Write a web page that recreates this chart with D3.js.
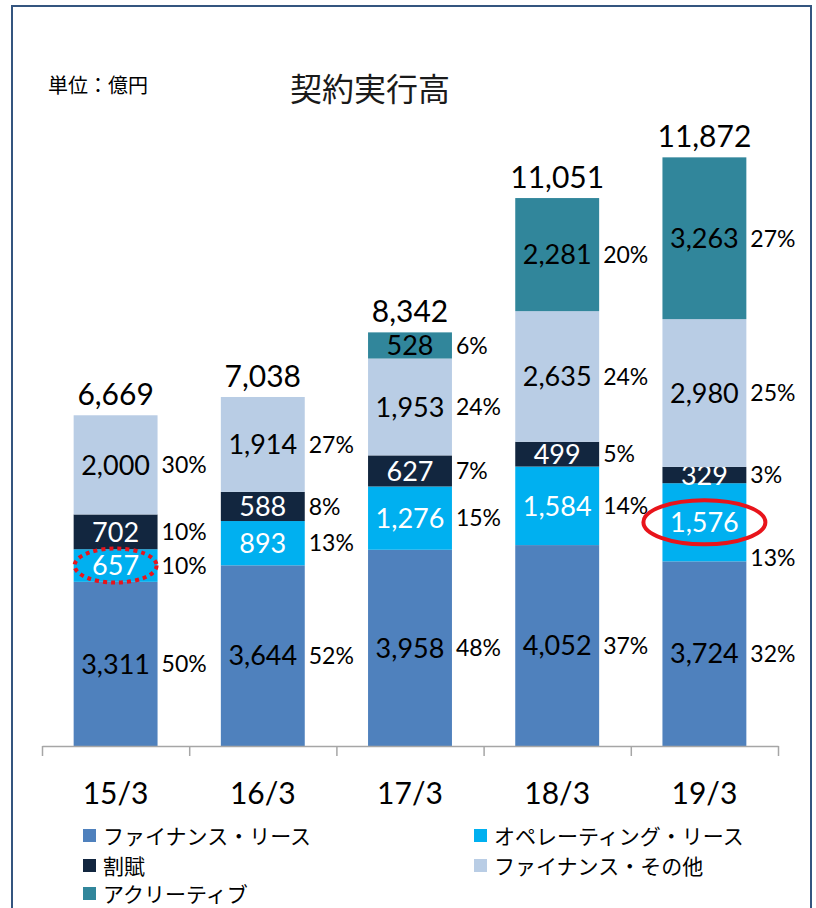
<!DOCTYPE html>
<html>
<head>
<meta charset="utf-8">
<script src="https://cdn.jsdelivr.net/npm/d3@7"></script>
<style>
  body { margin: 0; background: #fff; }
  svg { display: block; }
</style>
</head>
<body>
<svg id="chart" width="816" height="908"></svg>
<script>
const years = ["15/3", "16/3", "17/3", "18/3", "19/3"];
const seriesNames = ["ファイナンス・リース", "オペレーティング・リース", "割賦", "ファイナンス・その他", "アクリーティブ"];
const financeLease = [3311, 3644, 3958, 4052, 3724];
const operatingLease = [657, 893, 1276, 1584, 1576];
const installment = [702, 588, 627, 499, 329];
const financeOther = [2000, 1914, 1953, 2635, 2980];
const accretive = [0, 0, 528, 2281, 3263];
const totals = [6669, 7038, 8342, 11051, 11872];
const financeLeasePct = [50, 52, 48, 37, 32];
const operatingLeasePct = [10, 13, 15, 14, 13];
const installmentPct = [10, 8, 7, 5, 3];
const financeOtherPct = [30, 27, 24, 24, 25];
const accretivePct = [null, null, 6, 20, 27];

const svg = d3.select("#chart");
const numFont = "Lato, 'Open Sans', sans-serif";
const jpFont = "'Noto Sans CJK JP', sans-serif";

// frame
svg.append("rect")
  .attr("x", 12).attr("y", 6).attr("width", 799).attr("height", 920)
  .attr("fill", "none").attr("stroke", "#34557f").attr("stroke-width", 2);

svg.append("text").attr("x", 48).attr("y", 93)
  .attr("font-family", jpFont).attr("font-size", 20).attr("fill", "#000")
  .text("単位：億円");
svg.append("text").attr("x", 370).attr("y", 101).attr("text-anchor", "middle")
  .attr("font-family", jpFont).attr("font-size", 32).attr("fill", "#1a1a1a")
  .text("契約実行高");

const keys = ["fl", "ol", "in", "fo", "ac"];
const colors = { fl: "#4f81bd", ol: "#00b0f0", in: "#12263f", fo: "#b9cde5", ac: "#31869b" };
const labelColors = { fl: "#000", ol: "#fff", in: "#fff", fo: "#000", ac: "#000" };
const valueArrays = { fl: financeLease, ol: operatingLease, in: installment, fo: financeOther, ac: accretive };
const pctArrays = { fl: financeLeasePct, ol: operatingLeasePct, in: installmentPct, fo: financeOtherPct, ac: accretivePct };

const rows = years.map((y, i) => {
  const r = { year: y, i };
  keys.forEach(k => r[k] = valueArrays[k][i]);
  return r;
});
const stacked = d3.stack().keys(keys)(rows);

const x = d3.scaleBand().domain(years).range([42, 778]).paddingInner(0).paddingOuter(0);
const y = d3.scaleLinear().domain([0, 12000]).range([746, 151]);
const barW = x.bandwidth() * 0.57;
const bx = d => x(d) + (x.bandwidth() - barW) / 2;

const fmt = d3.format(",");

stacked.forEach(layer => {
  const k = layer.key;
  const g = svg.append("g");
  layer.forEach(seg => {
    const v = seg[1] - seg[0];
    if (!v) return;
    const yr = seg.data.year;
    const cy = (y(seg[0]) + y(seg[1])) / 2;
    g.append("rect")
      .attr("x", bx(yr)).attr("y", y(seg[1]))
      .attr("width", barW).attr("height", y(seg[0]) - y(seg[1]))
      .attr("fill", colors[k]);
    g.append("text")
      .attr("x", bx(yr) + barW / 2).attr("y", cy)
      .attr("dy", "0.36em").attr("text-anchor", "middle")
      .attr("font-family", numFont).attr("font-size", 27)
      .attr("fill", labelColors[k])
      .text(fmt(v));
    const p = pctArrays[k][seg.data.i];
    if (p != null) {
      // the circled 19/3 operating lease share sits below the ellipse
      const py = (k === "ol" && yr === "19/3") ? cy + 35 : cy;
      g.append("text")
        .attr("x", bx(yr) + barW + 4).attr("y", py)
        .attr("dy", "0.36em")
        .attr("font-family", numFont).attr("font-size", 23).attr("fill", "#000")
        .text(p + "%");
    }
  });
});

// totals
svg.append("g").selectAll("text").data(years).enter().append("text")
  .attr("x", d => x(d) + x.bandwidth() / 2)
  .attr("y", (d, i) => y(totals[i]) - 10)
  .attr("text-anchor", "middle")
  .attr("font-family", numFont).attr("font-size", 30).attr("fill", "#000")
  .text((d, i) => fmt(totals[i]));

// x axis with ticks at category boundaries
const xi = d3.scaleLinear().domain([0, years.length]).range([42, 778]);
const axis = svg.append("g").attr("transform", "translate(0,746)")
  .call(d3.axisBottom(xi).tickValues(d3.range(years.length + 1)).tickFormat("").tickSize(10).tickSizeOuter(0));
axis.select(".domain").attr("stroke", "#a6a6a6").attr("stroke-width", 1.5);
axis.selectAll(".tick line").attr("stroke", "#a6a6a6").attr("stroke-width", 1.5);

svg.append("g").selectAll("text").data(years).enter().append("text")
  .attr("x", d => x(d) + x.bandwidth() / 2).attr("y", 804)
  .attr("text-anchor", "middle")
  .attr("font-family", numFont).attr("font-size", 30).attr("fill", "#000")
  .text(d => d);

// highlight ellipses
const segOf = (k, yr) => stacked.find(l => l.key === k)[years.indexOf(yr)];
const s1 = segOf("ol", "15/3");
svg.append("ellipse")
  .attr("cx", bx("15/3") + barW / 2).attr("cy", (y(s1[0]) + y(s1[1])) / 2)
  .attr("rx", 41).attr("ry", 17)
  .attr("fill", "none").attr("stroke", "#e8141b").attr("stroke-width", 4)
  .attr("stroke-dasharray", "4 4");
const s2 = segOf("ol", "19/3");
svg.append("ellipse")
  .attr("cx", bx("19/3") + barW / 2).attr("cy", (y(s2[0]) + y(s2[1])) / 2)
  .attr("rx", 61).attr("ry", 22)
  .attr("fill", "none").attr("stroke", "#e8141b").attr("stroke-width", 4);

// legend
const legendPos = [[83, 836], [474, 836], [83, 866], [474, 866], [83, 894]];
const order = ["fl", "ol", "in", "fo", "ac"];
const lg = svg.append("g");
order.forEach((k, i) => {
  const [lx, ly] = legendPos[i];
  lg.append("rect").attr("x", lx).attr("y", ly - 7).attr("width", 13).attr("height", 13).attr("fill", colors[k]);
  lg.append("text").attr("x", lx + 20).attr("y", ly).attr("dy", "0.36em")
    .attr("font-family", jpFont).attr("font-size", 21).attr("fill", "#000")
    .text(seriesNames[i]);
});
</script>
</body>
</html>
